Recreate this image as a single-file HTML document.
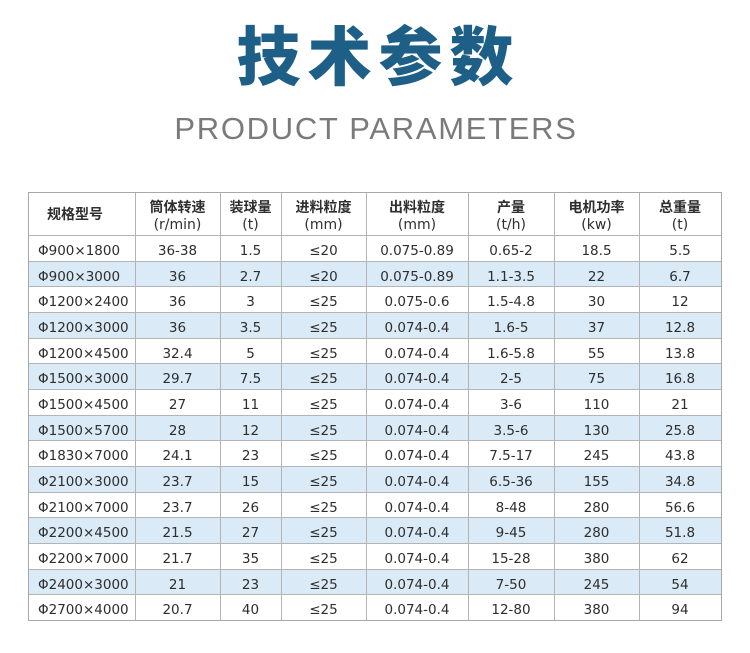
<!DOCTYPE html>
<html>
<head>
<meta charset="utf-8">
<style>
  html,body{margin:0;padding:0;background:#fff;}
  body{width:750px;height:653px;position:relative;overflow:hidden;}
  .title{position:absolute;left:0;width:750px;top:26px;height:64px;line-height:64px;text-align:center;
    font-family:"Liberation Sans","Noto Sans CJK SC",sans-serif;font-weight:900;font-size:64px;color:#1d5f87;letter-spacing:7px;padding-left:7px;box-sizing:border-box;}
  .sub{position:absolute;left:0;width:750px;top:113px;height:31px;line-height:31px;text-align:center;
    font-family:"Liberation Sans",sans-serif;font-size:31px;color:#7a7a7a;letter-spacing:1.7px;padding-left:2px;box-sizing:border-box;}
  .row{position:absolute;left:28px;width:693px;display:flex;font-family:"DejaVu Sans","Noto Sans CJK SC",sans-serif;font-size:13.5px;color:#2e2e2e;}
  .row.b{background:#daeaf7;}
  .row div{text-align:center;box-sizing:border-box;padding-top:5px;}
  .row div:first-child{text-align:left;padding-left:10px;}
  .w1{width:107px}.w2{width:85px}.w3{width:61px}.w4{width:85px}.w5{width:102px}.w6{width:86px}.w7{width:85px}.w8{width:82px}
  .hdr{position:absolute;left:28px;top:192px;width:693px;height:43px;display:flex;font-family:"Liberation Sans","Noto Sans CJK SC",sans-serif;color:#2e2e2e;}
  .hdr div{text-align:center;padding-top:6px;box-sizing:border-box;}
  .hdr b{display:block;font-family:"Noto Sans CJK SC",sans-serif;font-weight:700;font-size:14px;line-height:18px;}
  .hdr span{display:block;font-family:"DejaVu Sans",sans-serif;font-size:14px;line-height:18px;}
  .vl{position:absolute;top:192px;height:428px;width:1px;background:#b4b4b4;}
  .hl{position:absolute;left:28px;width:693px;height:1px;background:#b4b4b4;}
  .box{position:absolute;left:28px;top:192px;width:692px;height:427px;border:1px solid #a8a8a8;}
</style>
</head>
<body>
<div class="title">技术参数</div>
<div class="sub">PRODUCT PARAMETERS</div>

<div class="hdr">
  <div class="w1" style="text-align:left;padding-left:19px;padding-top:13px;"><b>规格型号</b></div>
  <div class="w2"><b>筒体转速</b><span>(r/min)</span></div>
  <div class="w3"><b>装球量</b><span>(t)</span></div>
  <div class="w4"><b>进料粒度</b><span>(mm)</span></div>
  <div class="w5"><b>出料粒度</b><span>(mm)</span></div>
  <div class="w6"><b>产量</b><span>(t/h)</span></div>
  <div class="w7"><b>电机功率</b><span>(kw)</span></div>
  <div class="w8"><b>总重量</b><span>(t)</span></div>
</div>

<div class="row" style="top:235px;height:26px;line-height:22px;"><div class="w1">Φ900×1800</div><div class="w2">36-38</div><div class="w3">1.5</div><div class="w4">≤20</div><div class="w5">0.075-0.89</div><div class="w6">0.65-2</div><div class="w7">18.5</div><div class="w8">5.5</div></div>
<div class="row b" style="top:261px;height:25px;line-height:22px;"><div class="w1">Φ900×3000</div><div class="w2">36</div><div class="w3">2.7</div><div class="w4">≤20</div><div class="w5">0.075-0.89</div><div class="w6">1.1-3.5</div><div class="w7">22</div><div class="w8">6.7</div></div>
<div class="row" style="top:286px;height:26px;line-height:22px;"><div class="w1">Φ1200×2400</div><div class="w2">36</div><div class="w3">3</div><div class="w4">≤25</div><div class="w5">0.075-0.6</div><div class="w6">1.5-4.8</div><div class="w7">30</div><div class="w8">12</div></div>
<div class="row b" style="top:312px;height:26px;line-height:22px;"><div class="w1">Φ1200×3000</div><div class="w2">36</div><div class="w3">3.5</div><div class="w4">≤25</div><div class="w5">0.074-0.4</div><div class="w6">1.6-5</div><div class="w7">37</div><div class="w8">12.8</div></div>
<div class="row" style="top:338px;height:25px;line-height:22px;"><div class="w1">Φ1200×4500</div><div class="w2">32.4</div><div class="w3">5</div><div class="w4">≤25</div><div class="w5">0.074-0.4</div><div class="w6">1.6-5.8</div><div class="w7">55</div><div class="w8">13.8</div></div>
<div class="row b" style="top:363px;height:26px;line-height:22px;"><div class="w1">Φ1500×3000</div><div class="w2">29.7</div><div class="w3">7.5</div><div class="w4">≤25</div><div class="w5">0.074-0.4</div><div class="w6">2-5</div><div class="w7">75</div><div class="w8">16.8</div></div>
<div class="row" style="top:389px;height:26px;line-height:22px;"><div class="w1">Φ1500×4500</div><div class="w2">27</div><div class="w3">11</div><div class="w4">≤25</div><div class="w5">0.074-0.4</div><div class="w6">3-6</div><div class="w7">110</div><div class="w8">21</div></div>
<div class="row b" style="top:415px;height:25px;line-height:22px;"><div class="w1">Φ1500×5700</div><div class="w2">28</div><div class="w3">12</div><div class="w4">≤25</div><div class="w5">0.074-0.4</div><div class="w6">3.5-6</div><div class="w7">130</div><div class="w8">25.8</div></div>
<div class="row" style="top:440px;height:26px;line-height:22px;"><div class="w1">Φ1830×7000</div><div class="w2">24.1</div><div class="w3">23</div><div class="w4">≤25</div><div class="w5">0.074-0.4</div><div class="w6">7.5-17</div><div class="w7">245</div><div class="w8">43.8</div></div>
<div class="row b" style="top:466px;height:26px;line-height:22px;"><div class="w1">Φ2100×3000</div><div class="w2">23.7</div><div class="w3">15</div><div class="w4">≤25</div><div class="w5">0.074-0.4</div><div class="w6">6.5-36</div><div class="w7">155</div><div class="w8">34.8</div></div>
<div class="row" style="top:492px;height:25px;line-height:22px;"><div class="w1">Φ2100×7000</div><div class="w2">23.7</div><div class="w3">26</div><div class="w4">≤25</div><div class="w5">0.074-0.4</div><div class="w6">8-48</div><div class="w7">280</div><div class="w8">56.6</div></div>
<div class="row b" style="top:517px;height:26px;line-height:22px;"><div class="w1">Φ2200×4500</div><div class="w2">21.5</div><div class="w3">27</div><div class="w4">≤25</div><div class="w5">0.074-0.4</div><div class="w6">9-45</div><div class="w7">280</div><div class="w8">51.8</div></div>
<div class="row" style="top:543px;height:26px;line-height:22px;"><div class="w1">Φ2200×7000</div><div class="w2">21.7</div><div class="w3">35</div><div class="w4">≤25</div><div class="w5">0.074-0.4</div><div class="w6">15-28</div><div class="w7">380</div><div class="w8">62</div></div>
<div class="row b" style="top:569px;height:25px;line-height:22px;"><div class="w1">Φ2400×3000</div><div class="w2">21</div><div class="w3">23</div><div class="w4">≤25</div><div class="w5">0.074-0.4</div><div class="w6">7-50</div><div class="w7">245</div><div class="w8">54</div></div>
<div class="row" style="top:594px;height:26px;line-height:22px;"><div class="w1">Φ2700×4000</div><div class="w2">20.7</div><div class="w3">40</div><div class="w4">≤25</div><div class="w5">0.074-0.4</div><div class="w6">12-80</div><div class="w7">380</div><div class="w8">94</div></div>

<!-- horizontal lines -->
<div class="hl" style="top:235px"></div>
<div class="hl" style="top:261px"></div>
<div class="hl" style="top:286px"></div>
<div class="hl" style="top:312px"></div>
<div class="hl" style="top:338px"></div>
<div class="hl" style="top:363px"></div>
<div class="hl" style="top:389px"></div>
<div class="hl" style="top:415px"></div>
<div class="hl" style="top:440px"></div>
<div class="hl" style="top:466px"></div>
<div class="hl" style="top:492px"></div>
<div class="hl" style="top:517px"></div>
<div class="hl" style="top:543px"></div>
<div class="hl" style="top:569px"></div>
<div class="hl" style="top:594px"></div>

<!-- vertical lines -->
<div class="vl" style="left:135px"></div>
<div class="vl" style="left:220px"></div>
<div class="vl" style="left:281px"></div>
<div class="vl" style="left:366px"></div>
<div class="vl" style="left:468px"></div>
<div class="vl" style="left:554px"></div>
<div class="vl" style="left:639px"></div>

<div class="box"></div>
</body>
</html>
